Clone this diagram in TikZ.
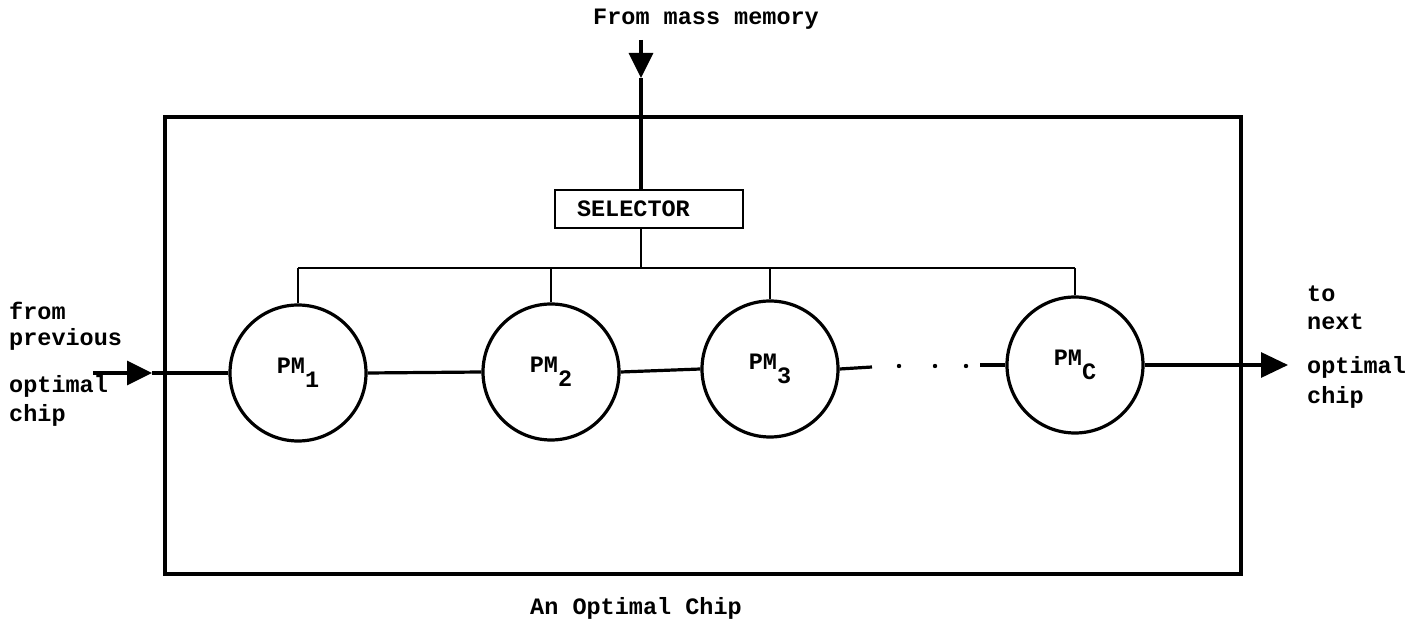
\documentclass[tikz,border=0pt]{standalone}
\usepackage{fontspec}
\setmainfont{Liberation Mono}
\usetikzlibrary{arrows.meta}
\newcommand{\twfont}{\fontsize{23.5}{28}\selectfont\bfseries}
\newcommand{\sub}[1]{\raisebox{-14pt}{#1}}
\begin{document}
\begin{tikzpicture}[x=1pt,y=-1pt,
  every node/.style={font=\twfont},
  txt/.style={anchor=base west,inner sep=0pt},
  pm/.style={circle,draw,line width=3.2pt,minimum size=136pt,inner sep=0pt},
  ln/.style={line width=3.2pt},
  thinln/.style={line width=2.6pt},
  arr/.style={line width=3.2pt,-{Triangle[length=25pt,width=24pt]}}]
\useasboundingbox (0,0) rectangle (1428,620);
% outer chip box
\draw[ln] (165,117) rectangle (1241,574);
% circles
\node[pm] (pm1) at (298,373) {PM\sub{1}};
\node[pm] (pm2) at (551,372) {PM\sub{2}};
\node[pm] (pm3) at (770,369) {PM\sub{3}};
\node[pm] (pmc) at (1075,365) {PM\sub{C}};
% selector
\node[draw,line width=2.6pt,minimum height=38pt,inner xsep=22pt,text width=144pt,align=left] (sel) at (649,209) {SELECTOR};
% top input
\coordinate (top) at (641,40);
\coordinate (toptip) at (641,78);
\draw[arr] (top) -- (toptip);
\draw[ln] (toptip) -- (toptip |- sel.north);
% bus
\coordinate (bl) at (pm1.north |- 0,268);
\coordinate (br) at (pmc.north |- 0,268);
\draw[thinln] (bl) -- (br);
\draw[thinln] (toptip |- sel.south) -- (toptip |- bl);
\draw[thinln] (pm1.north) -- (bl);
\draw[thinln] (pm2.north) -- (pm2.north |- bl);
\draw[thinln] (pm3.north) -- (pm3.north |- bl);
\draw[thinln] (pmc.north) -- (br);
% chain
\coordinate (in) at (93,373);
\coordinate (intip) at (152,373);
\draw[arr] (in) -- (intip);
\draw[ln] (intip) -- (pm1.west);
\draw[ln] (pm1.east) -- (pm2.west);
\draw[ln] (pm2.east) -- (pm3.west);
\coordinate (d1) at (872,367);
\coordinate (d2) at (980,365);
\draw[ln] (pm3.east) -- (d1);
\draw[ln] (d2) -- (pmc.west);
\fill (899,366) circle (2.2pt) (935,366) circle (2.2pt) (966,366) circle (2.2pt);
\coordinate (out) at (1288,365);
\draw[line width=3.2pt,-{Triangle[length=27pt,width=25pt]}] (pmc.east) -- (out);
% texts
\node[txt] (t0) at (593,25) {From mass memory};
\node[txt] (t1) at (9,320) {from};
\node[txt] (t2) at (9,346) {previous};
\node[txt] (t3) at (9,393) {optimal};
\node[txt] (t4) at (9,421) {chip};
\node[txt] (t5) at (1307,302) {to};
\node[txt] (t6) at (1307,330) {next};
\node[txt] (t7) at (1307,374) {optimal};
\node[txt] (t8) at (1307,404) {chip};
\node[txt] (t9) at (530,614) {An Optimal Chip};
\end{tikzpicture}
\end{document}
